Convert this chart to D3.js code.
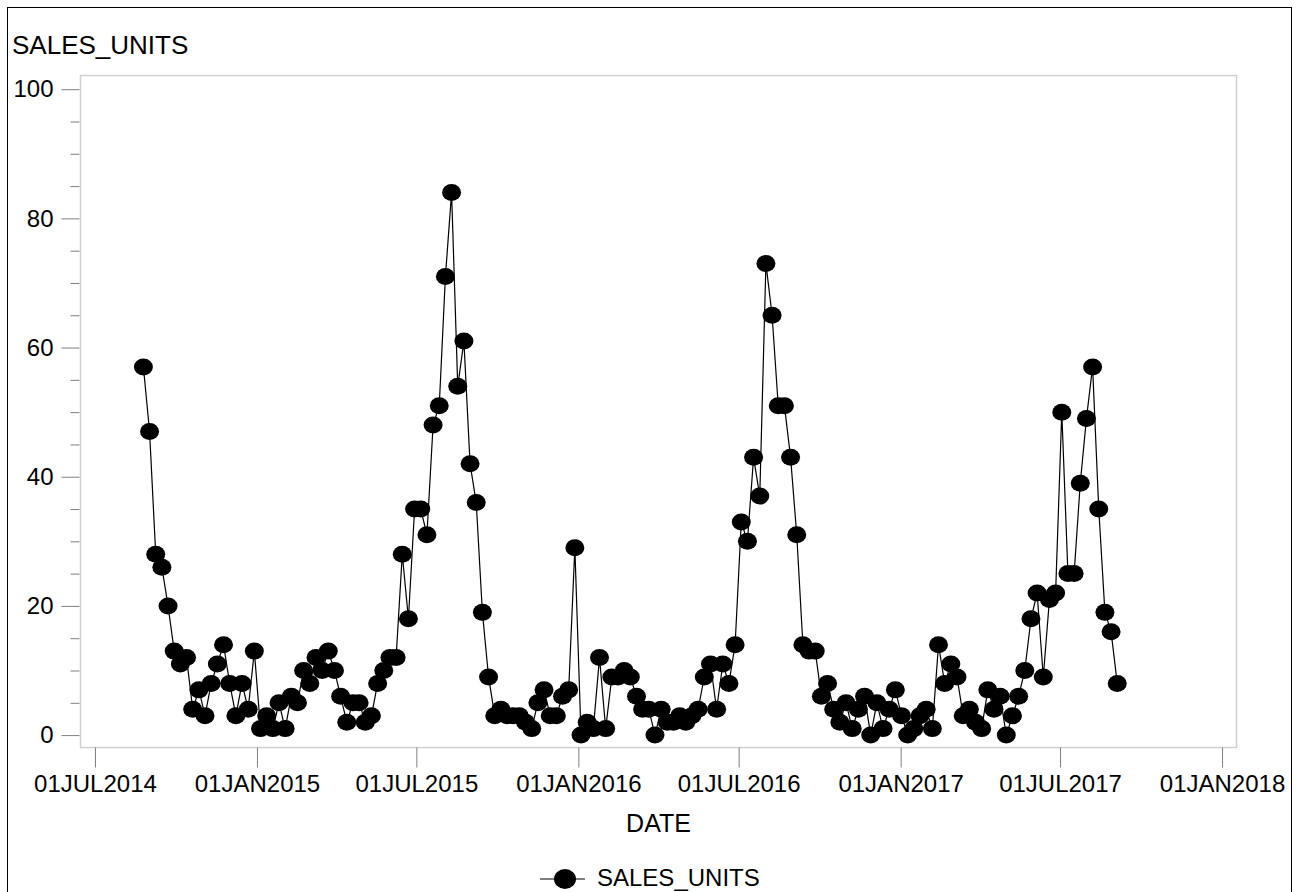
<!DOCTYPE html>
<html>
<head>
<meta charset="utf-8">
<script src="https://cdn.jsdelivr.net/npm/d3@7"></script>
<style>
  html, body { margin: 0; padding: 0; background: #fff; }
  svg { display: block; }
  text { font-family: "Liberation Sans", Arial, sans-serif; fill: #000; }
</style>
</head>
<body>
<svg id="chart" width="1299" height="892"></svg>
<script>
// Weekly sales units, first week starting 25AUG2014
const firstWeek = "2014-08-25";
const salesUnits = [
  57, 47, 28, 26, 20, 13, 11, 12, 4, 7,
  3, 8, 11, 14, 8, 3, 8, 4, 13, 1,
  3, 1, 5, 1, 6, 5, 10, 8, 12, 10,
  13, 10, 6, 2, 5, 5, 2, 3, 8, 10,
  12, 12, 28, 18, 35, 35, 31, 48, 51, 71,
  84, 54, 61, 42, 36, 19, 9, 3, 4, 3,
  3, 3, 2, 1, 5, 7, 3, 3, 6, 7,
  29, 0, 2, 1, 12, 1, 9, 9, 10, 9,
  6, 4, 4, 0, 4, 2, 2, 3, 2, 3,
  4, 9, 11, 4, 11, 8, 14, 33, 30, 43,
  37, 73, 65, 51, 51, 43, 31, 14, 13, 13,
  6, 8, 4, 2, 5, 1, 4, 6, 0, 5,
  1, 4, 7, 3, 0, 1, 3, 4, 1, 14,
  8, 11, 9, 3, 4, 2, 1, 7, 4, 6,
  0, 3, 6, 10, 18, 22, 9, 21, 22, 50,
  25, 25, 39, 49, 57, 35, 19, 16, 8
];
const xTickDates = ["2014-07-01", "2015-01-01", "2015-07-01", "2016-01-01",
                    "2016-07-01", "2017-01-01", "2017-07-01", "2018-01-01"];
const yTicks = [0, 20, 40, 60, 80, 100];
const yMinorTicks = [5, 10, 15, 25, 30, 35, 45, 50, 55, 65, 70, 75, 85, 90, 95];
const xDomain = ["2014-06-14", "2018-01-18"];
const yDomain = [-2, 102.2];

const parse = d3.utcParse("%Y-%m-%d");
const fmt = d => d3.utcFormat("%d%b%Y")(d).toUpperCase();
const start = parse(firstWeek);
const data = salesUnits.map((v, i) => ({ date: d3.utcWeek.offset(start, i), value: v }));

const svg = d3.select("#chart");
const plot = { left: 80, right: 1237, top: 75, bottom: 748 };

const x = d3.scaleUtc().domain(xDomain.map(parse)).range([plot.left, plot.right]);
const y = d3.scaleLinear().domain(yDomain).range([plot.bottom, plot.top]);

// outer graph border
svg.append("rect")
  .attr("x", 7.5).attr("y", 7.5).attr("width", 1284).attr("height", 910)
  .attr("fill", "none").attr("stroke", "#000").attr("stroke-width", 1);

// title above the y axis
svg.append("text").attr("x", 12).attr("y", 54)
  .style("font-size", "26px").text("SALES_UNITS");

// plot frame
svg.append("rect")
  .attr("x", plot.left + 0.5).attr("y", plot.top + 0.5)
  .attr("width", plot.right - plot.left - 1).attr("height", plot.bottom - plot.top - 1)
  .attr("fill", "none").attr("stroke", "#d0d0d0").attr("stroke-width", 1.5);

// y axis
const yAxis = d3.axisLeft(y).tickValues(yTicks).tickSize(18).tickPadding(8);
const gy = svg.append("g").attr("transform", `translate(${plot.left - 0.5},0)`).call(yAxis);
gy.select(".domain").remove();
gy.selectAll(".tick line").attr("stroke", "#7f7f7f");
gy.selectAll(".tick text").style("font-size", "24px").attr("font-family", null);

const gyMinor = svg.append("g").attr("transform", `translate(${plot.left - 0.5},0)`)
  .call(d3.axisLeft(y).tickValues(yMinorTicks).tickSize(9).tickFormat(""));
gyMinor.select(".domain").remove();
gyMinor.selectAll(".tick line").attr("stroke", "#7f7f7f");

// x axis
const xAxis = d3.axisBottom(x).tickValues(xTickDates.map(parse)).tickFormat(fmt)
  .tickSize(20).tickPadding(7);
const gx = svg.append("g").attr("transform", `translate(0,${plot.bottom - 0.5})`).call(xAxis);
gx.select(".domain").remove();
gx.selectAll(".tick line").attr("stroke", "#7f7f7f");
gx.selectAll(".tick text").style("font-size", "24px").attr("font-family", null);

// axis label
svg.append("text").attr("x", (plot.left + plot.right) / 2).attr("y", 832)
  .attr("text-anchor", "middle").style("font-size", "25px").text("DATE");

// series line
const line = d3.line().x(d => x(d.date)).y(d => y(d.value));
svg.append("path").datum(data)
  .attr("d", line).attr("fill", "none").attr("stroke", "#000").attr("stroke-width", 1.2);

// markers
svg.append("g").selectAll("ellipse").data(data).join("ellipse")
  .attr("cx", d => x(d.date)).attr("cy", d => y(d.value))
  .attr("rx", 9.5).attr("ry", 8.5).attr("fill", "#000");

// legend
const lg = svg.append("g");
lg.append("line").attr("x1", 540).attr("x2", 585).attr("y1", 879).attr("y2", 879)
  .attr("stroke", "#000").attr("stroke-width", 1.2);
lg.append("ellipse").attr("cx", 565).attr("cy", 879).attr("rx", 11).attr("ry", 10).attr("fill", "#000");
lg.append("text").attr("x", 597).attr("y", 886).style("font-size", "24px").text("SALES_UNITS");
</script>
</body>
</html>
